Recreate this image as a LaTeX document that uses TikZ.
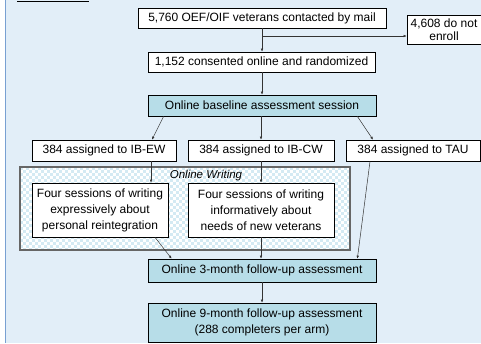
\documentclass[tikz,border=0pt]{standalone}
\usepackage{fontspec}
\setmainfont{Liberation Sans}
\usetikzlibrary{arrows.meta}
\definecolor{panelbg}{RGB}{226,238,248}
\definecolor{panelline}{RGB}{120,160,210}
\definecolor{stepfill}{RGB}{183,221,232}
\definecolor{dotblue}{RGB}{212,234,243}
\begin{document}
\begin{tikzpicture}[x=1pt,y=-1pt]
    % Define node styles
    \tikzstyle{plainbox}=[rectangle, fill=white, draw=black, line width=0.7pt, inner sep=1pt, align=center, font=\fontsize{12}{16}\selectfont]
    \tikzstyle{bluebox}=[plainbox, fill=stepfill]
    \tikzstyle{arr}=[-{Latex[length=3pt,width=2.6pt]}, draw=black!80, line width=0.5pt]

    % Background panel
    \useasboundingbox (0,0) rectangle (481,343);
    \fill[panelbg] (5,0) rectangle (481,343);
    \draw[panelline, line width=0.8pt] (5,0) -- (5,343);
    \draw[black, line width=1.4pt] (17,1.5) -- (89,1.5);

    % Online writing region (dotted fill)
    \fill[white] (20,167) rectangle (350,250);
    \begin{scope}
        \clip (20,167) rectangle (350,250);
        \foreach \i in {0,...,55} {
            \foreach \j in {0,...,14} {
                \fill[dotblue] (20+6*\i,167+6*\j) rectangle +(2.8,2.8);
                \fill[dotblue] (23+6*\i,170+6*\j) rectangle +(2.8,2.8);
            }
        }
    \end{scope}
    \draw[draw=black!60, line width=1.2pt] (20,167) rectangle (350,250);
    \node[font=\fontsize{11.5}{12}\selectfont\itshape] (owlabel) at (206,175.5) {Online Writing};

    % Enrollment
    \node[plainbox, minimum width=248, minimum height=20] (mail) at (262,18) {5,760 OEF/OIF veterans contacted by mail};
    \node[plainbox, minimum width=74, minimum height=29] (dne) at (444,29.5) {4,608 do not\\[-3pt]enroll};
    \node[plainbox, minimum width=227, minimum height=20] (consent) at (261.5,62) {1,152 consented online and randomized};
    \node[bluebox, minimum width=228, minimum height=21] (base) at (262,105.5) {Online baseline assessment session};
    \coordinate (split) at (262,36);

    % Arms
    \node[plainbox, minimum width=144, minimum height=21] (ew) at (104,150.5) {384 assigned to IB-EW};
    \node[plainbox, minimum width=146, minimum height=21] (cw) at (261,150.5) {384 assigned to IB-CW};
    \node[plainbox, minimum width=134, minimum height=21] (tau) at (413,150.5) {384 assigned to TAU};

    \node[plainbox, minimum width=136, minimum height=54] (ewtext) at (100,210) {Four sessions of writing\\expressively about\\personal reintegration};
    \node[plainbox, minimum width=146, minimum height=54] (cwtext) at (261,210) {Four sessions of writing\\informatively about\\needs of new veterans};

    % Follow-up
    \node[bluebox, minimum width=228, minimum height=23] (three) at (262,270.5) {Online 3-month follow-up assessment};
    \node[bluebox, minimum width=228, minimum height=39] (nine) at (262,322.5) {Online 9-month follow-up assessment\\(288 completers per arm)};

    % Connectors
    \draw[arr] (mail.south) -- (mail.south |- consent.north);
    \draw[arr] (split) -- (split -| dne.west);
    \draw[arr] (consent.south -| base.north) -- (base.north);
    \draw[arr] ([xshift=16]base.south west) -- ([xshift=48]ew.north);
    \draw[arr] (base.south -| cw.north) -- (cw.north);
    \draw[arr] ([xshift=-19]base.south east) -- ([xshift=-40]tau.north);
    \draw[arr] ([xshift=47]ew.south) -- ([xshift=51]ewtext.north);
    \draw[arr] (cw.south) -- (cwtext.north);
    \draw[arr] ([xshift=-43]tau.south) -- ([xshift=-19]three.north east);
    \draw[arr] ([xshift=55]ewtext.south) -- ([xshift=24]three.north west);
    \draw[arr] (cwtext.south) -- (cwtext.south |- three.north);
    \draw[arr] (three.south) -- (nine.north);
\end{tikzpicture}
\end{document}
